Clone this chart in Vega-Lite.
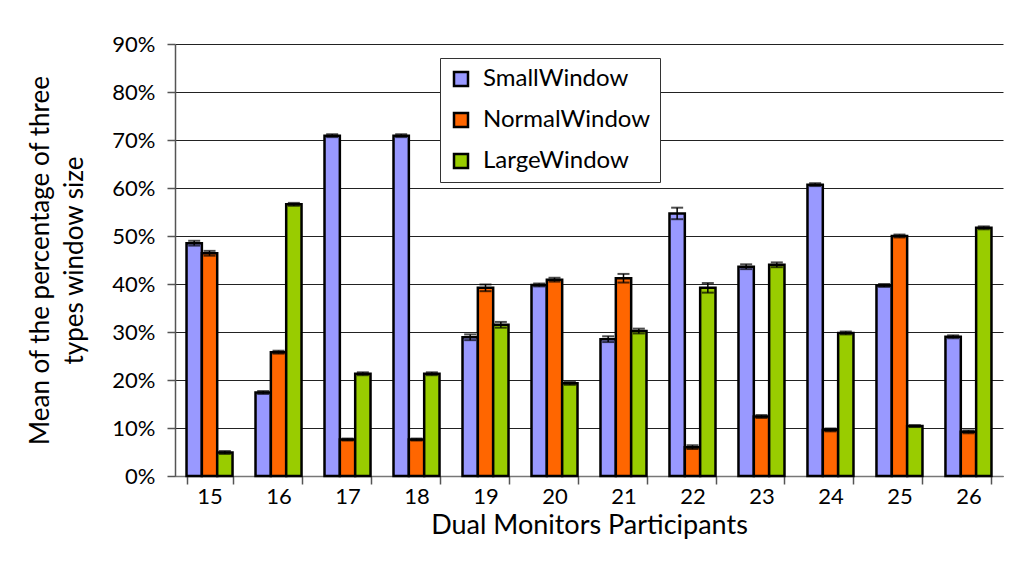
{
  "$schema": "https://vega.github.io/schema/vega-lite/v6.json",
  "width": 828,
  "height": 432,
  "autosize": {"type": "none"},
  "padding": {"left": 175, "top": 44, "right": 9, "bottom": 111},
  "background": "white",
  "config": {"font": "Lato", "view": {"stroke": null}},
  "data": {
    "values": [
      {"p": "15", "w": "SmallWindow", "v": 48.5, "lo": 48.0, "hi": 49.0},
      {"p": "15", "w": "NormalWindow", "v": 46.4, "lo": 45.9, "hi": 46.9},
      {"p": "15", "w": "LargeWindow", "v": 4.9, "lo": 4.6, "hi": 5.2},
      {"p": "16", "w": "SmallWindow", "v": 17.4, "lo": 17.1, "hi": 17.7},
      {"p": "16", "w": "NormalWindow", "v": 25.8, "lo": 25.5, "hi": 26.1},
      {"p": "16", "w": "LargeWindow", "v": 56.6, "lo": 56.3, "hi": 56.9},
      {"p": "17", "w": "SmallWindow", "v": 70.9, "lo": 70.6, "hi": 71.2},
      {"p": "17", "w": "NormalWindow", "v": 7.6, "lo": 7.4, "hi": 7.8},
      {"p": "17", "w": "LargeWindow", "v": 21.3, "lo": 21.0, "hi": 21.6},
      {"p": "18", "w": "SmallWindow", "v": 70.9, "lo": 70.6, "hi": 71.2},
      {"p": "18", "w": "NormalWindow", "v": 7.6, "lo": 7.4, "hi": 7.8},
      {"p": "18", "w": "LargeWindow", "v": 21.3, "lo": 21.0, "hi": 21.6},
      {"p": "19", "w": "SmallWindow", "v": 28.9, "lo": 28.3, "hi": 29.5},
      {"p": "19", "w": "NormalWindow", "v": 39.2, "lo": 38.5, "hi": 39.9},
      {"p": "19", "w": "LargeWindow", "v": 31.5, "lo": 30.9, "hi": 32.1},
      {"p": "20", "w": "SmallWindow", "v": 39.8, "lo": 39.5, "hi": 40.1},
      {"p": "20", "w": "NormalWindow", "v": 40.9, "lo": 40.5, "hi": 41.3},
      {"p": "20", "w": "LargeWindow", "v": 19.3, "lo": 19.0, "hi": 19.6},
      {"p": "21", "w": "SmallWindow", "v": 28.5, "lo": 27.9, "hi": 29.1},
      {"p": "21", "w": "NormalWindow", "v": 41.2, "lo": 40.3, "hi": 42.1},
      {"p": "21", "w": "LargeWindow", "v": 30.2, "lo": 29.7, "hi": 30.7},
      {"p": "22", "w": "SmallWindow", "v": 54.7, "lo": 53.5, "hi": 55.9},
      {"p": "22", "w": "NormalWindow", "v": 6.0, "lo": 5.6, "hi": 6.4},
      {"p": "22", "w": "LargeWindow", "v": 39.2, "lo": 38.2, "hi": 40.2},
      {"p": "23", "w": "SmallWindow", "v": 43.6, "lo": 43.1, "hi": 44.1},
      {"p": "23", "w": "NormalWindow", "v": 12.4, "lo": 12.1, "hi": 12.7},
      {"p": "23", "w": "LargeWindow", "v": 44.0, "lo": 43.5, "hi": 44.5},
      {"p": "24", "w": "SmallWindow", "v": 60.7, "lo": 60.4, "hi": 61.0},
      {"p": "24", "w": "NormalWindow", "v": 9.6, "lo": 9.3, "hi": 9.9},
      {"p": "24", "w": "LargeWindow", "v": 29.8, "lo": 29.5, "hi": 30.1},
      {"p": "25", "w": "SmallWindow", "v": 39.7, "lo": 39.4, "hi": 40.0},
      {"p": "25", "w": "NormalWindow", "v": 50.0, "lo": 49.7, "hi": 50.3},
      {"p": "25", "w": "LargeWindow", "v": 10.4, "lo": 10.2, "hi": 10.6},
      {"p": "26", "w": "SmallWindow", "v": 29.0, "lo": 28.7, "hi": 29.3},
      {"p": "26", "w": "NormalWindow", "v": 9.2, "lo": 8.9, "hi": 9.5},
      {"p": "26", "w": "LargeWindow", "v": 51.7, "lo": 51.4, "hi": 52.0}
    ]
  },
  "encoding": {
    "x": {
      "field": "p",
      "type": "ordinal",
      "scale": {"paddingInner": 0.333, "paddingOuter": 0.167},
      "axis": {
        "labelAngle": 0,
        "labelFontSize": 22,
        "labelColor": "black",
        "labelPadding": 2,
        "tickBand": "extent",
        "tickSize": 8,
        "tickColor": "#555555",
        "tickWidth": 1.5,
        "domainColor": "#777777",
        "domainWidth": 1.5,
        "title": "Dual Monitors Participants",
        "titleFontSize": 27,
        "titleFontWeight": "normal",
        "titleColor": "black",
        "titlePadding": 5
      }
    },
    "xOffset": {"field": "w", "sort": ["SmallWindow", "NormalWindow", "LargeWindow"]}
  },
  "layer": [
    {
      "mark": {"type": "bar", "stroke": "black", "strokeWidth": 2.5},
      "encoding": {
        "y": {
          "field": "v",
          "type": "quantitative",
          "scale": {"domain": [0, 90], "nice": false},
          "axis": {
            "values": [0, 10, 20, 30, 40, 50, 60, 70, 80, 90],
            "labelExpr": "datum.value + '%'",
            "labelFontSize": 22,
            "labelColor": "black",
            "labelPadding": 12,
            "grid": true,
            "gridColor": "#222222",
            "gridWidth": 1,
            "tickColor": "#555555",
            "tickWidth": 1.5,
            "tickSize": 8,
            "domainColor": "#555555",
            "domainWidth": 1.5,
            "title": ["Mean of the percentage of three", "types window size"],
            "titleFontSize": 26,
            "titleFontWeight": "normal",
            "titleColor": "black",
            "titlePadding": 24,
            "titleLineHeight": 34
          }
        },
        "color": {
          "field": "w",
          "type": "nominal",
          "sort": ["SmallWindow", "NormalWindow", "LargeWindow"],
          "scale": {"domain": ["SmallWindow", "NormalWindow", "LargeWindow"], "range": ["#9999FF", "#FF6600", "#99CC00"]},
          "legend": {
            "orient": "none",
            "legendX": 265,
            "legendY": 14,
            "title": null,
            "strokeColor": "#333333",
            "fillColor": "white",
            "padding": 9,
            "rowPadding": 17,
            "symbolType": "square",
            "symbolSize": 196,
            "symbolStrokeColor": "black",
            "symbolStrokeWidth": 2.5,
            "symbolOpacity": 1,
            "labelFontSize": 24,
            "labelLimit": 400,
            "labelColor": "black",
            "labelOffset": 10
          }
        }
      }
    },
    {
      "mark": {"type": "rule", "color": "black", "strokeWidth": 1.5},
      "encoding": {
        "y": {"field": "lo", "type": "quantitative"},
        "y2": {"field": "hi"}
      }
    },
    {
      "mark": {"type": "tick", "color": "black", "size": 12, "thickness": 2},
      "encoding": {"y": {"field": "hi", "type": "quantitative"}}
    },
    {
      "mark": {"type": "tick", "color": "black", "size": 12, "thickness": 2},
      "encoding": {"y": {"field": "lo", "type": "quantitative"}}
    }
  ]
}
